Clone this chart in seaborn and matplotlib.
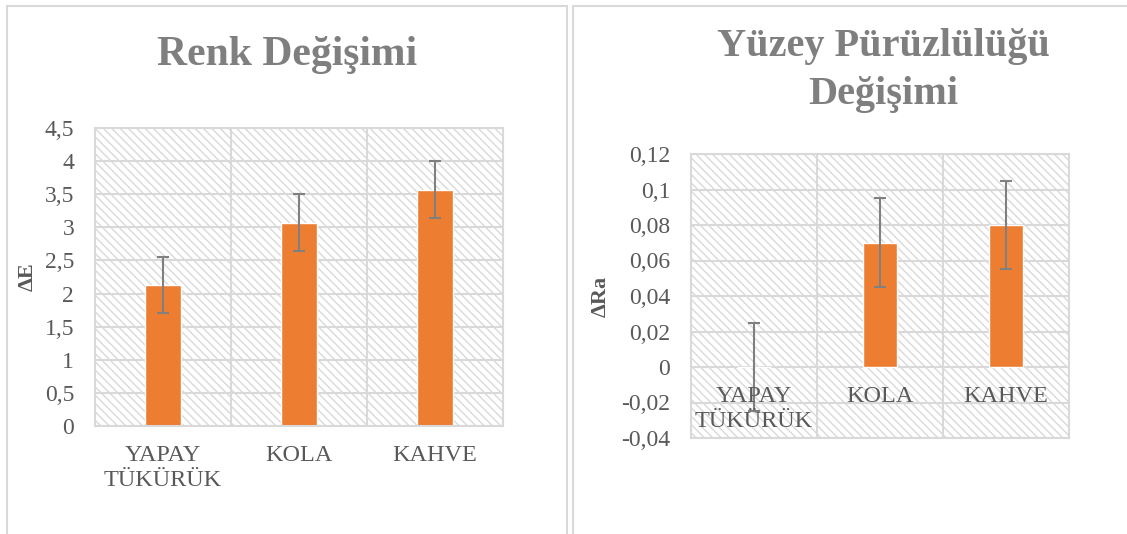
import numpy as np
import pandas as pd
import matplotlib
matplotlib.use('Agg')
from matplotlib import pyplot as plt
from matplotlib.patches import Rectangle
from matplotlib.ticker import FuncFormatter, MultipleLocator, FixedLocator
import seaborn as sns

# data
groups = ['YAPAY\nTÜKÜRÜK', 'KOLA', 'KAHVE']
delta_e = [2.13, 3.07, 3.57]
delta_e_err = [0.42, 0.43, 0.43]
delta_ra = [0.0, 0.07, 0.08]
delta_ra_err = [0.025, 0.025, 0.025]

orange = '#ED7D31'
grid_col = '#D9D9D9'
text_col = '#595959'
title_col = '#7F7F7F'

sns.set_style('white')
plt.rcParams['font.family'] = ['Liberation Serif', 'DejaVu Serif']
plt.rcParams['hatch.linewidth'] = 1.0

fig = plt.figure(figsize=(11.27, 5.34), dpi=100)
W, H = 1127, 534

# chart frames
for x0, x1 in [(7, 567), (573, 1135)]:
    fig.add_artist(Rectangle((x0 / W, -0.05), (x1 - x0) / W, 1.05 - 6 / H,
                             transform=fig.transFigure, fill=False,
                             edgecolor=grid_col, lw=1.5))


def comma_fmt(v, pos):
    s = f'{round(v, 6):g}'
    if s == '-0':
        s = '0'
    return s.replace('.', ',')


def draw_panel(ax, values, errs, ylim, step, ylabel, label_x):
    df = pd.DataFrame({'grup': groups, 'deger': values})
    ax.add_patch(Rectangle((0, 0), 1, 1, transform=ax.transAxes, facecolor='white',
                           edgecolor=grid_col, hatch='\\\\\\\\', lw=0, zorder=0))
    sns.barplot(data=df, x='grup', y='deger', color=orange, width=0.27,
                saturation=1, ax=ax, zorder=2)
    ax.errorbar(range(len(groups)), values, yerr=errs, fmt='none', ecolor='#808080',
                elinewidth=1.5, capsize=4.5, capthick=1.5, zorder=3)
    ax.set_xlim(-0.5, len(groups) - 0.5)
    ax.set_ylim(*ylim)
    ax.yaxis.set_major_locator(MultipleLocator(step))
    ax.yaxis.set_major_formatter(FuncFormatter(comma_fmt))
    ax.xaxis.set_minor_locator(FixedLocator([0.5, 1.5]))
    ax.set_axisbelow(True)
    ax.grid(axis='y', which='major', color=grid_col, lw=1.5)
    ax.grid(axis='x', which='minor', color=grid_col, lw=1.5)
    ax.grid(axis='x', which='major', visible=False)
    for sp in ax.spines.values():
        sp.set_color(grid_col)
        sp.set_linewidth(1.5)
    ax.tick_params(axis='y', length=0, pad=15, labelsize=17, labelcolor=text_col)
    ax.tick_params(axis='x', which='both', length=0, labelbottom=False)
    ax.set_xlabel('')
    ax.set_ylabel(ylabel, fontsize=16, fontweight='bold', color=text_col, va='center')
    ax.yaxis.set_label_coords(label_x, 0.5)
    # category labels hang just below the zero line
    for i, g in enumerate(groups):
        ax.annotate(g, (i, 0), xytext=(0, -14), textcoords='offset points',
                    ha='center', va='top', fontsize=17.5, color=text_col,
                    annotation_clip=False)


ax1 = fig.add_axes([95 / W, 1 - 426 / H, 408 / W, 298 / H])
draw_panel(ax1, delta_e, delta_e_err, (0, 4.5), 0.5, 'ΔE', -0.165)

ax2 = fig.add_axes([691 / W, 1 - 438 / H, 378 / W, 284 / H])
draw_panel(ax2, delta_ra, delta_ra_err, (-0.04, 0.12), 0.02, 'ΔRa', -0.24)

fig.text(287 / W, 1 - 65 / H, 'Renk Değişimi', ha='center', va='baseline',
         fontsize=30, fontweight='bold', color=title_col)
fig.text(883 / W, 1 - 104 / H, 'Yüzey Pürüzlülüğü\nDeğişimi', ha='center', va='baseline',
         fontsize=29, fontweight='bold', color=title_col, linespacing=1.4)

fig.savefig('out.png', dpi=100, facecolor='white')
